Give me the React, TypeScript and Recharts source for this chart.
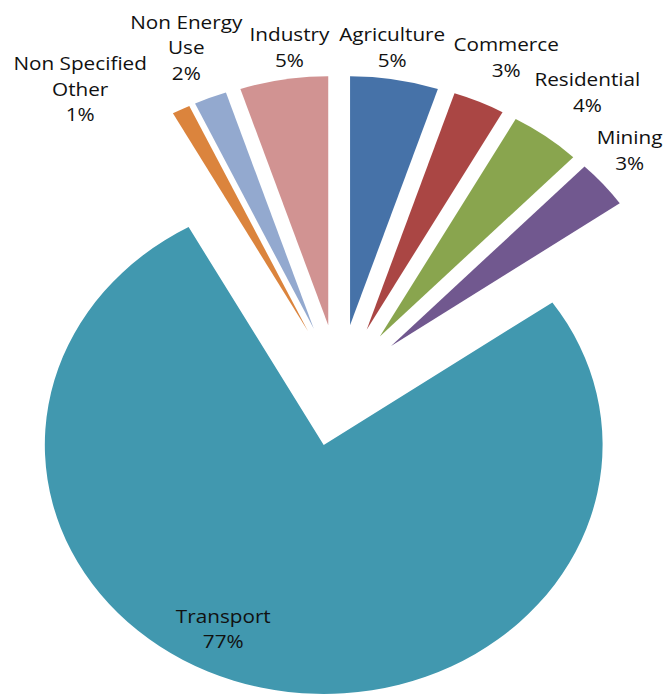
import { PieChart, Pie, Sector } from 'recharts'

// shares (labels show them rounded)
const sectors = ['Agriculture', 'Commerce', 'Residential', 'Mining', 'Transport', 'Non Specified Other', 'Non Energy Use', 'Industry']
const shares = [5.1, 3.0, 4.1, 3.1, 76.65, 1.05, 1.9, 5.1]
const colors = ['#4672A8', '#AA4644', '#89A54E', '#71588F', '#4198AF', '#DB843D', '#93A9CF', '#D19392']

const data = sectors.map((name, i) => ({ name, value: shares[i] }))

// the source image is stretched sideways, so the chart is drawn round and scaled in x
const SX = 1.12
const W = 600
const H = 694
const CX = 297.8
const CY = 380.5
const R = 249
const EXPLODE = 61
const FONT = '"Open Sans", sans-serif'
const FS = 18.5
const LH = 25.5

// Excel moved the labels a little off the plain radial spot
const nudge: Record<string, [number, number]> = {
  'Non Specified Other': [-59, 21],
  'Non Energy Use': [0, -8],
  Industry: [6, -2],
  Agriculture: [-3, -2],
  Commerce: [2, -14],
  Residential: [3, -16],
  Mining: [-7.5, -10],
  Transport: [-43, -18],
}

let ctx: CanvasRenderingContext2D | null = null
function textWidth(s: string) {
  if (!ctx) ctx = document.createElement('canvas').getContext('2d')
  if (!ctx) return s.length * FS * 0.55
  ctx.font = `${FS}px ${FONT}`
  return ctx.measureText(s).width
}

function wrap(name: string) {
  if (name.length <= 12) return [name]
  const k = name.lastIndexOf(' ')
  return [name.slice(0, k), name.slice(k + 1)]
}

function renderSlice(p: any) {
  const { cx, cy, midAngle, startAngle, endAngle, outerRadius, percent } = p
  const name: string = p.payload?.name ?? p.name
  const idx = sectors.indexOf(name)
  const rad = (-midAngle * Math.PI) / 180
  const ux = Math.cos(rad)
  const uy = Math.sin(rad)
  const ox = cx + EXPLODE * ux
  const oy = cy + EXPLODE * uy
  const lines = [...wrap(name), `${Math.round(percent * 100)}%`]
  let lx: number
  let ly: number
  if (percent > 0.5) {
    const r = outerRadius * 0.83
    lx = ox + r * ux
    ly = oy + r * uy
  } else {
    const w = Math.max(...lines.map(textWidth))
    const h = lines.length * LH
    const k = Math.abs(ux) < 0.25 ? 0 : 1
    const r = outerRadius + EXPLODE + 4 + 10 * Math.abs(ux)
    lx = cx + r * ux + (k * ux * w) / 2
    ly = cy + r * uy + (uy * h) / 2
  }
  const n = nudge[name] || [0, 0]
  lx += n[0]
  ly += n[1]
  return (
    <g key={name}>
      <Sector cx={ox} cy={oy} innerRadius={0} outerRadius={outerRadius} startAngle={startAngle} endAngle={endAngle} fill={colors[idx]} stroke="none" />
      <text x={lx} y={ly} textAnchor="middle" fontFamily={FONT} fontSize={FS} fill="#111">
        {lines.map((l, i) => (
          <tspan key={i} x={lx} y={ly + (i - (lines.length - 1) / 2) * LH} dominantBaseline="central">
            {l}
          </tspan>
        ))}
      </text>
    </g>
  )
}

export default function App() {
  return (
    <div style={{ position: 'absolute', left: 0, top: 0, width: W, height: H, transform: `scaleX(${SX})`, transformOrigin: '0 0', background: '#fff' }}>
      <PieChart width={W} height={H}>
        <Pie
          data={data}
          dataKey="value"
          nameKey="name"
          cx={CX}
          cy={CY}
          outerRadius={R}
          startAngle={90}
          endAngle={-270}
          fill="none"
          stroke="none"
          label={renderSlice}
          labelLine={false}
          isAnimationActive={false}
        />
      </PieChart>
    </div>
  )
}
